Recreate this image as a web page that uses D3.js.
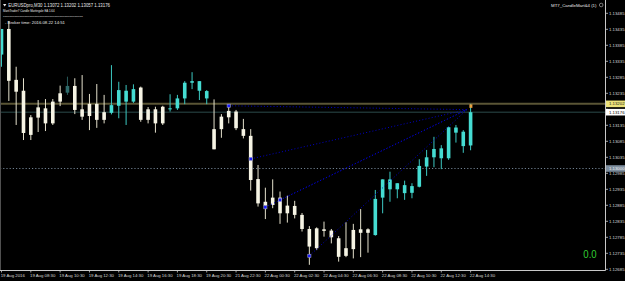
<!DOCTYPE html>
<html><head><meta charset="utf-8">
<script src="https://cdn.jsdelivr.net/npm/d3@7"></script>
<style>html,body{margin:0;padding:0;background:#000;overflow:hidden}svg{display:block}</style>
</head><body><svg id="c" width="625" height="281"></svg>
<script>
// ---- data (EURUSDpro, M30) ----
const openP = [1.13356,1.13436,1.13277,1.13243,1.13160,1.13191,1.13188,1.13209,1.13235,1.13237,
1.13258,1.13185,1.13202,1.13202,1.13176,1.13174,1.13196,1.13209,1.13209,1.13253,
1.13185,1.13185,1.13193,1.13185,1.13188,1.13219,1.13268,1.13243,1.13219,1.13123,
1.13162,1.13180,1.13178,1.13123,1.13102,1.12967,1.12896,1.12909,1.12909,1.12884,
1.12883,1.12855,1.12811,1.12813,1.12810,1.12806,1.12782,1.12751,1.12808,1.12810,
1.12810,1.12792,1.12909,1.12935,1.12935,1.12923,1.12924,1.12943,1.13006,1.13035,
1.13032,1.13032,1.13112,1.13115,1.13072];
const highP = [1.13436,1.13461,1.13318,1.13282,1.13167,1.13214,1.13217,1.13217,1.13259,1.13287,
1.13282,1.13292,1.13233,1.13264,1.13230,1.13323,1.13271,1.13261,1.13263,1.13256,
1.13192,1.13193,1.13196,1.13232,1.13230,1.13273,1.13301,1.13273,1.13245,1.13216,
1.13170,1.13201,1.13183,1.13155,1.13123,1.13011,1.12940,1.12966,1.12928,1.12915,
1.12899,1.12861,1.12820,1.12816,1.12834,1.12811,1.12789,1.12832,1.12827,1.12873,
1.12813,1.12933,1.12966,1.12990,1.12954,1.12962,1.12954,1.13029,1.13058,1.13099,
1.13073,1.13131,1.13136,1.13120,1.13202];
const lowP = [1.13318,1.13211,1.13136,1.13089,1.13089,1.13114,1.13117,1.13136,1.13195,1.13230,
1.13170,1.13152,1.13120,1.13127,1.13141,1.13169,1.13157,1.13136,1.13205,1.13146,
1.13141,1.13112,1.13136,1.13178,1.13183,1.13201,1.13248,1.13214,1.13201,1.13060,
1.13096,1.13141,1.13120,1.13094,1.12931,1.12881,1.12842,1.12876,1.12827,1.12831,
1.12844,1.12803,1.12699,1.12745,1.12787,1.12766,1.12709,1.12723,1.12719,1.12723,
1.12737,1.12790,1.12860,1.12896,1.12907,1.12902,1.12907,1.12941,1.12977,1.13004,
1.12998,1.13027,1.13081,1.13049,1.13057];
const closeP = [1.13436,1.13274,1.13240,1.13111,1.13105,1.13159,1.13141,1.13141,1.13209,1.13258,
1.13183,1.13162,1.13164,1.13152,1.13152,1.13198,1.13245,1.13243,1.13248,1.13152,
1.13152,1.13141,1.13141,1.13188,1.13219,1.13268,1.13273,1.13273,1.13242,1.13060,
1.13123,1.13160,1.13126,1.13102,1.12964,1.12891,1.12884,1.12886,1.12860,1.12860,
1.12855,1.12811,1.12756,1.12751,1.12805,1.12785,1.12724,1.12727,1.12748,1.12799,
1.12799,1.12905,1.12966,1.12966,1.12954,1.12948,1.12945,1.13008,1.13035,1.13061,
1.13063,1.13129,1.13128,1.13070,1.13176];
// indicator state per bar: u = up, d = down, n = neutral
const trend = ["u","d","d","d","d","d","d","d","d","n",
"d","d","d","d","d","u","u","u","u","d",
"d","d","d","u","u","u","u","u","u","d",
"d","d","d","d","d","d","d","d","d","d",
"d","d","d","d","d","d","d","d","d","d",
"d","u","u","u","u","u","u","u","u","u",
"u","u","u","u","u"];
const timeLabels = ["19 Aug 2016","19 Aug 08:30","19 Aug 10:30","19 Aug 12:30","19 Aug 14:30","19 Aug 16:30",
"19 Aug 18:30","19 Aug 20:30","21 Aug 22:30","22 Aug 00:30","22 Aug 02:30","22 Aug 04:30",
"22 Aug 06:30","22 Aug 08:30","22 Aug 10:30","22 Aug 12:30","22 Aug 14:30"];
const labelBars = [0,4,8,12,16,20,24,28,32,36,40,44,48,52,56,60,64];
const priceTicks = [1.12685,1.12735,1.12785,1.12835,1.12885,1.12935,1.12985,1.13035,1.13085,
1.13135,1.13185,1.13235,1.13285,1.13335,1.13385,1.13435,1.13485];
const bidPrice = 1.13176;
const hLinePrice = 1.13202;
const levelPrice = 1.13000;
const entryBars = [31,34,36,38,42];
const entryPrices = [1.13196,1.13030,1.12879,1.12902,1.12727];
const targetBar = 63.5, targetPrice = 1.13184;
const headerLines = ["EURUSDpro,M30  1.13072 1.13202 1.13057 1.13176",
"MartiTrader7 Candle Martingale EA 1.64",
"------------------------------------------------",
"- Broker time: 2016.08.22 14:51"];
const indicatorName = "MT7_CandleMart&4 (1)";
const profitText = "0.0";

// ---- layout ----
const W = 625, H = 281, plotR = 605, plotB = 270;
const svg = d3.select("#c");
svg.append("rect").attr("width",W).attr("height",H).attr("fill","#000");
const x = d3.scaleLinear().domain([0,64]).range([1.5,470.6]);
const y = d3.scaleLinear().domain([1.12685,1.13485]).range([269.3,13.3]);
const FONT = "'Liberation Sans', Arial, sans-serif";
const fmt = d3.format(".5f");

const plot = svg.append("g");
// horizontal price lines
plot.append("line").attr("x1",0).attr("x2",plotR).attr("y1",y(hLinePrice)).attr("y2",y(hLinePrice))
  .attr("stroke","#5a5535").attr("stroke-width",2);
plot.append("line").attr("x1",0).attr("x2",plotR).attr("y1",y(bidPrice)).attr("y2",y(bidPrice))
  .attr("stroke","#2c4a4a").attr("stroke-width",1);
plot.append("line").attr("x1",0).attr("x2",plotR).attr("y1",y(levelPrice)).attr("y2",y(levelPrice))
  .attr("stroke","#6f7f8f").attr("stroke-width",1).attr("stroke-dasharray","1.2,2");

// candles
const bars = d3.range(openP.length);
const bodyCol = {u:"#45dcd2", d:"#f6f4e4", n:"#2e6a6a"};
const wickCol = {u:"#3cc8c2", d:"#e4e0cc", n:"#2a5a5a"};
const cg = plot.append("g");
cg.selectAll("line.w").data(bars).join("line").attr("class","w")
  .attr("x1",i=>x(i)).attr("x2",i=>x(i))
  .attr("y1",i=>y(highP[i])).attr("y2",i=>y(lowP[i]))
  .attr("stroke",i=>wickCol[trend[i]]).attr("stroke-width",1);
cg.selectAll("rect.b").data(bars).join("rect").attr("class","b")
  .attr("x",i=>x(i)-1.8).attr("width",3.6)
  .attr("y",i=>y(Math.max(openP[i],closeP[i])))
  .attr("height",i=>Math.max(1,Math.abs(y(openP[i])-y(closeP[i]))))
  .attr("fill",i=>bodyCol[trend[i]]);

// trend lines from entries to target
const tg = plot.append("g");
entryBars.forEach((b,k)=>{
  tg.append("line").attr("x1",x(b)).attr("y1",y(entryPrices[k]))
    .attr("x2",x(targetBar)).attr("y2",y(targetPrice))
    .attr("stroke","#0000c8").attr("stroke-width",1).attr("stroke-dasharray","1,2.2");
});
entryBars.forEach((b,k)=>{
  tg.append("rect").attr("x",x(b)-1.6).attr("y",y(entryPrices[k])-1.6).attr("width",3.2).attr("height",3.2)
    .attr("fill","#1a1aff").attr("stroke","#9aa0c0").attr("stroke-width",0.6);
});
tg.append("rect").attr("x",x(64)-1.2).attr("y",y(highP[64])+0.5).attr("width",3).attr("height",3.5)
  .attr("fill","#e8a040");

// axes
svg.append("line").attr("x1",plotR+0.5).attr("x2",plotR+0.5).attr("y1",0).attr("y2",plotB+0.5)
  .attr("stroke","#c8c8c8").attr("stroke-width",1);
svg.append("line").attr("x1",0).attr("x2",plotR+0.5).attr("y1",plotB+0.5).attr("y2",plotB+0.5)
  .attr("stroke","#c8c8c8").attr("stroke-width",1);
svg.append("line").attr("x1",0.5).attr("x2",0.5).attr("y1",0).attr("y2",plotB)
  .attr("stroke","#505050").attr("stroke-width",1);

const ya = svg.append("g");
const boxPrices = [levelPrice, hLinePrice, bidPrice];
priceTicks.forEach(v=>{
  ya.append("line").attr("x1",plotR).attr("x2",plotR+3).attr("y1",y(v)).attr("y2",y(v))
    .attr("stroke","#c8c8c8").attr("stroke-width",0.8);
  // label hidden when a price box covers it
  if (boxPrices.some(p=>Math.abs(y(p)-y(v))<6.2 && !(p===levelPrice && y(v)>y(p)+3))) return;
  ya.append("text").attr("x",609).attr("y",y(v)+1.5).text(fmt(v))
    .attr("font-family",FONT).attr("font-size",4.3).attr("fill","#d8d8d8");
});
function priceBox(v, bg, fg){
  ya.append("rect").attr("x",606).attr("y",y(v)-3.3).attr("width",19).attr("height",6.6).attr("fill",bg);
  ya.append("text").attr("x",609).attr("y",y(v)+1.6).text(fmt(v))
    .attr("font-family",FONT).attr("font-size",4.3).attr("fill",fg);
}
priceBox(levelPrice,"#7d8d9d","#f0f0f0");
priceBox(hLinePrice,"#ece27a","#202020");
priceBox(bidPrice,"#ffffff","#000000");

const xa = svg.append("g");
labelBars.forEach((b,k)=>{
  xa.append("line").attr("x1",x(b)).attr("x2",x(b)).attr("y1",plotB).attr("y2",plotB+2.5)
    .attr("stroke","#c8c8c8").attr("stroke-width",0.8);
  xa.append("text").attr("x",x(b)-0.8).attr("y",277).text(timeLabels[k])
    .attr("font-family",FONT).attr("font-size",4.3).attr("fill","#d8d8d8");
});

// header texts
const hd = svg.append("g").attr("font-family",FONT).attr("fill","#e8e8e8");
hd.append("path").attr("d","M3,4 L6.4,4 L4.7,6.4 Z").attr("fill","#e8e8e8");
hd.append("text").attr("x",8.3).attr("y",6.6).text(headerLines[0]).attr("font-size",4.5)
  .attr("textLength",101.7).attr("lengthAdjust","spacingAndGlyphs");
hd.append("text").attr("x",3).attr("y",11.8).text(headerLines[1]).attr("font-size",4.2)
  .attr("textLength",51.5).attr("lengthAdjust","spacingAndGlyphs");
hd.append("text").attr("x",3).attr("y",17.6).text(headerLines[2]).attr("font-size",5)
  .attr("textLength",80).attr("lengthAdjust","spacingAndGlyphs");
hd.append("text").attr("x",5).attr("y",23.6).text(headerLines[3]).attr("font-size",4.2)
  .attr("textLength",60).attr("lengthAdjust","spacingAndGlyphs");
hd.append("text").attr("x",551).attr("y",6.6).text(indicatorName).attr("font-size",4.3)
  .attr("textLength",45.5).attr("lengthAdjust","spacingAndGlyphs");
hd.append("circle").attr("cx",601.2).attr("cy",5).attr("r",1.8).attr("fill","none")
  .attr("stroke","#c8c8c8").attr("stroke-width",0.6);

svg.append("text").attr("x",583.3).attr("y",258.3).text(profitText)
  .attr("font-family",FONT).attr("font-size",10.5).attr("fill","#32cd32")
  .attr("textLength",13.4).attr("lengthAdjust","spacingAndGlyphs");
</script>
</body></html>
